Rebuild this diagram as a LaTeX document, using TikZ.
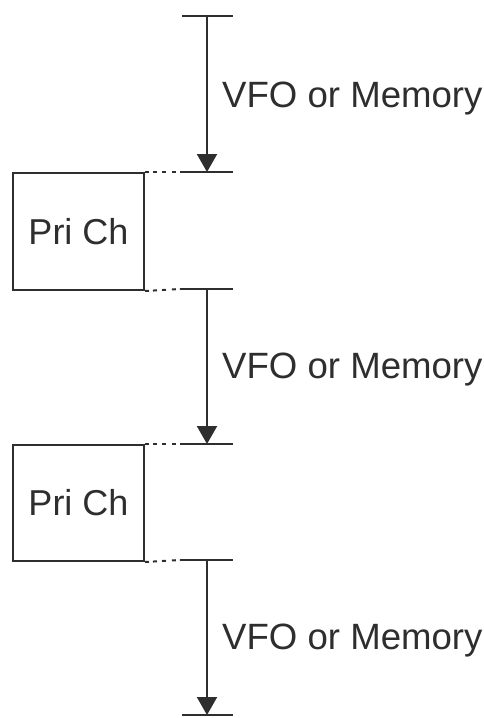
\documentclass[tikz,border=0pt]{standalone}
\usepackage{fontspec}
\setmainfont{Liberation Sans}
\usetikzlibrary{arrows.meta}
\definecolor{ink}{HTML}{2E2E2E}
\begin{document}
\begin{tikzpicture}[x=1pt,y=-1pt,
  ln/.style={draw=ink,line width=2pt},
  dotln/.style={draw=ink,line width=2pt,dash pattern=on 4pt off 4pt on 4pt off 5pt on 4pt off 6pt},
  arr/.style={draw=ink,line width=2pt,-{Triangle[width=20pt,length=18pt]}},
  lbl/.style={text=ink,font=\fontsize{36.6}{40}\selectfont,inner sep=0pt,anchor=base west},
  pbox/.style={draw=ink,line width=2pt,minimum width=131pt,inner sep=0pt,text=ink,font=\fontsize{36}{40}\selectfont}]
\useasboundingbox (0,0) rectangle (484,718);
% boxes
\node[pbox,minimum height=117pt,anchor=north west] (b1) at (12,172) {Pri Ch};
\node[pbox,minimum height=116pt,anchor=north west] (b2) at (12,444) {Pri Ch};
% coordinates
\coordinate (t0l) at (182,16); \coordinate (t0r) at (233,16); \coordinate (t0) at (207,16);
\coordinate (s1) at (180,172); \coordinate (e1) at (233,172); \coordinate (m1) at (207,172);
\coordinate (s2) at (180,289); \coordinate (e2) at (233,289); \coordinate (m2) at (207,289);
\coordinate (s3) at (180,444); \coordinate (e3) at (233,444); \coordinate (m3) at (207,444);
\coordinate (s4) at (180,560); \coordinate (e4) at (233,560); \coordinate (m4) at (207,560);
\coordinate (t5l) at (182,715); \coordinate (t5r) at (233,715); \coordinate (m5) at (207,715);
% ticks and level lines
\draw[ln] (t0l) -- (t0r);
\draw[ln] (t5l) -- (t5r);
\draw[dotln] (b1.north east) -- (s1); \draw[ln] (s1) -- (e1);
\draw[dotln] (b1.south east) -- (s2); \draw[ln] (s2) -- (e2);
\draw[dotln] (b2.north east) -- (s3); \draw[ln] (s3) -- (e3);
\draw[dotln] (b2.south east) -- (s4); \draw[ln] (s4) -- (e4);
% arrows
\draw[arr] (t0) -- (m1);
\draw[arr] (m2) -- (m3);
\draw[arr] (m4) -- (m5);
% labels
\node[lbl] (l1) at (222,107) {VFO or Memory};
\node[lbl] (l2) at (222,378) {VFO or Memory};
\node[lbl] (l3) at (222,649) {VFO or Memory};
\end{tikzpicture}
\end{document}
